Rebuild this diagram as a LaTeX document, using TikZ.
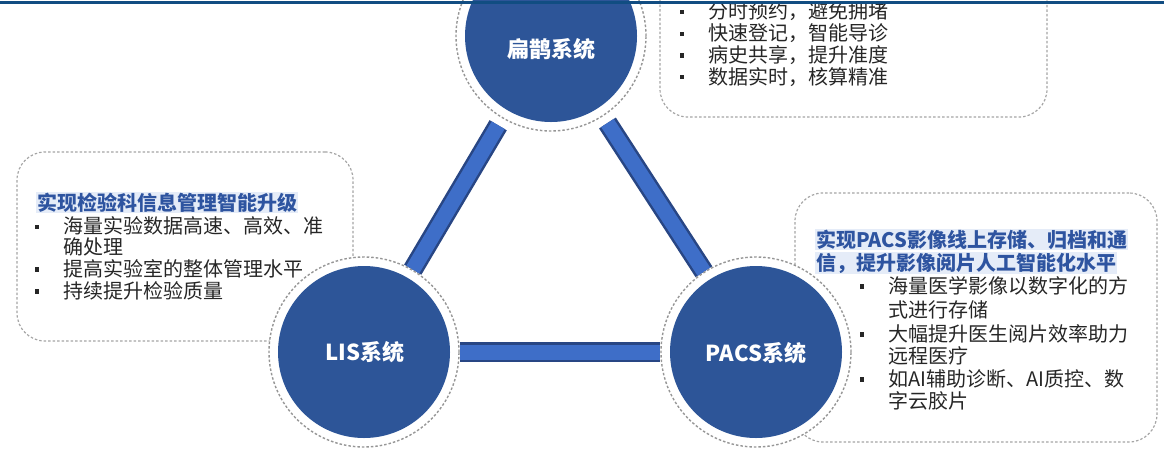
\documentclass[tikz,border=0pt]{standalone}
\usepackage{fontspec}
\setmainfont{Noto Sans CJK SC}
\usetikzlibrary{backgrounds}
\definecolor{topline}{RGB}{17,77,130}
\definecolor{circblue}{RGB}{45,85,152}
\definecolor{bardark}{RGB}{40,70,132}
\definecolor{barlight}{RGB}{62,110,200}
\definecolor{ringgray}{RGB}{150,150,150}
\definecolor{boxgray}{RGB}{165,165,165}
\definecolor{titleblue}{RGB}{46,84,160}
\definecolor{titlebg}{RGB}{229,236,248}
\definecolor{bodytext}{RGB}{38,38,38}
\begin{document}
\begin{tikzpicture}[x=1pt,y=-1pt,
  sysring/.style={circle, minimum size=190pt, inner sep=0pt, draw=ringgray, line width=1.4pt,
    dash pattern=on 2.5pt off 2pt, fill=white,
    path picture={\fill[circblue] (path picture bounding box.center) circle[radius=86pt];}},
  syslabel/.style={text=white, font=\bfseries\fontsize{22}{22}\selectfont, inner sep=0pt},
  infobox/.style={draw=boxgray, line width=1.2pt, dash pattern=on 2.5pt off 2pt, rounded corners=28pt, inner sep=0pt},
  linkbar/.style={draw=bardark, double=barlight, double distance=15pt, line width=2.5pt},
  body/.style={anchor=base west, inner sep=0pt, text=bodytext, font=\fontsize{20}{20}\selectfont},
  titletext/.style={anchor=base west, inner sep=1pt, text=titleblue, fill=titlebg, font=\bfseries\fontsize{20}{20}\selectfont},
  bulletmark/.style={rectangle, fill=black!85, minimum size=4.5pt, inner sep=0pt}
]
\clip (0,0) rectangle (1164,459);

% info boxes
\node[infobox, minimum width=387pt, minimum height=157pt] (bqbox) at (853.5,38.5) {};
\node[infobox, minimum width=336pt, minimum height=189pt] (lisbox) at (185,246.5) {};
\node[infobox, minimum width=362pt, minimum height=249pt] (pacsbox) at (976,317.5) {};

% system circles
\node[sysring] (bq) at (551,36) {};
\node[sysring] (lis) at (364,352) {};
\node[sysring] (pacs) at (756,352) {};
\node[syslabel] (bqlabel) at (551,49) {扁鹊系统};
\node[syslabel] (lislabel) at (365,352.5) {LIS系统};
\node[syslabel] (pacslabel) at (756,353) {PACS系统};

% connecting bars
\begin{pgfonlayer}{background}
\draw[linkbar, shorten <=8pt] (bq) -- (lis);
\draw[linkbar, shorten <=8pt] (bq) -- (pacs);
\draw[linkbar] (lis) -- (pacs);
\end{pgfonlayer}

% top box text
\node[bulletmark] (bqb1) at (682,12) {};
\node[bulletmark] (bqb2) at (682,34) {};
\node[bulletmark] (bqb3) at (682,55.5) {};
\node[bulletmark] (bqb4) at (682,77) {};
\node[body] (bqt1) at (708,18.1) {分时预约，避免拥堵};
\node[body] (bqt2) at (708,40.4) {快速登记，智能导诊};
\node[body] (bqt3) at (708,62.2) {病史共享，提升准度};
\node[body] (bqt4) at (708,84.0) {数据实时，核算精准};

% LIS box text
\node[titletext] (listitle) at (36,210.1) {实现检验科信息管理智能升级};
\node[bulletmark] (lisb1) at (37,227) {};
\node[bulletmark] (lisb2) at (37,269.5) {};
\node[bulletmark] (lisb3) at (37,291.5) {};
\node[body] (list1) at (63,233.6) {海量实验数据高速、高效、准};
\node[body] (list2) at (63,254.6) {确处理};
\node[body] (list3) at (63,276.1) {提高实验室的整体管理水平};
\node[body] (list4) at (63,298.1) {持续提升检验质量};

% PACS box text
\node[titletext] (pacstitle1) at (815,247.1) {实现PACS影像线上存储、归档和通};
\node[titletext] (pacstitle2) at (815,270.1) {信，提升影像阅片人工智能化水平};
\node[bulletmark] (pacsb1) at (862,286.5) {};
\node[bulletmark] (pacsb2) at (862,334.5) {};
\node[bulletmark] (pacsb3) at (862,379.5) {};
\node[body] (pacst1) at (888,293.1) {海量医学影像以数字化的方};
\node[body] (pacst2) at (888,317.1) {式进行存储};
\node[body] (pacst3) at (888,341.1) {大幅提升医生阅片效率助力};
\node[body] (pacst4) at (888,363.1) {远程医疗};
\node[body] (pacst5) at (888,386.1) {如AI辅助诊断、AI质控、数};
\node[body] (pacst6) at (888,408.1) {字云胶片};

% top rule
\draw[topline, line width=3pt] (0,2) -- (1164,2);
\end{tikzpicture}
\end{document}
